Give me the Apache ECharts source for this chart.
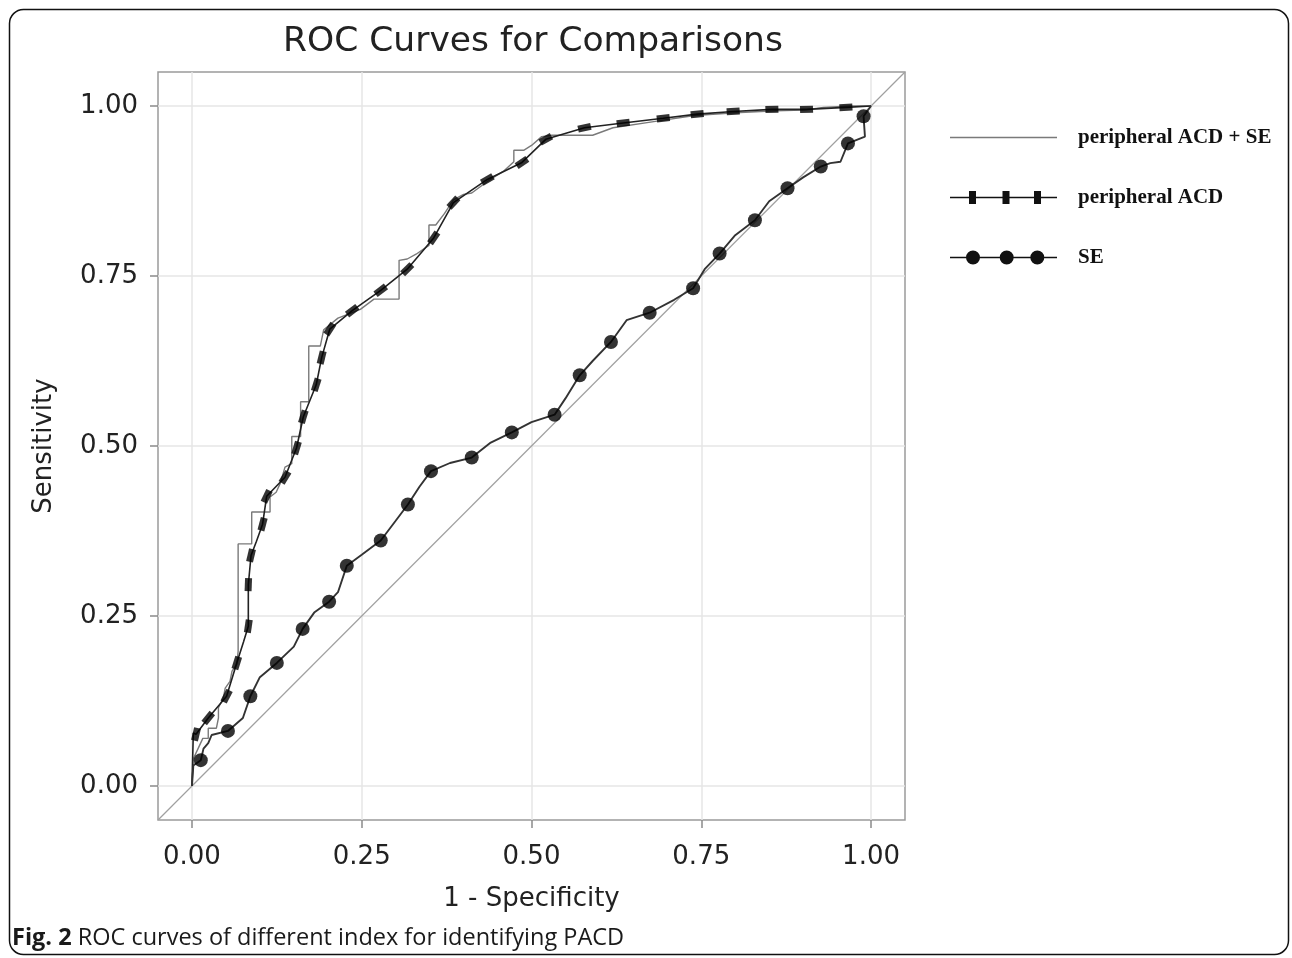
<!DOCTYPE html>
<html><head><meta charset="utf-8">
<script src="https://cdn.jsdelivr.net/npm/echarts@6/dist/echarts.min.js"></script>
<style>html,body{margin:0;padding:0;background:#fff}#c{width:1292px;height:958px}</style>
</head><body><div id="c"></div>
<script>
const titleText = 'ROC Curves for Comparisons';
const xName = '1 - Specificity';
const yName = 'Sensitivity';
const captionBold = 'Fig. 2';
const captionText = ' ROC curves of different index for identifying PACD';
const tickValues = [0, 0.25, 0.5, 0.75, 1];
const seriesNames = ['peripheral ACD + SE', 'peripheral ACD', 'SE'];
const diagonal = [[-0.05, -0.05], [1.05, 1.05]];

const comboPath = [[0,0],[0.002,0],[0.002,0.040],[0.009,0.055],[0.016,0.070],[0.024,0.070],[0.024,0.085],[0.036,0.085],[0.039,0.100],[0.039,0.115],[0.046,0.129],[0.049,0.144],[0.056,0.154],[0.059,0.169],[0.066,0.179],[0.068,0.198],[0.068,0.356],[0.088,0.356],[0.088,0.403],[0.115,0.403],[0.115,0.425],[0.124,0.432],[0.130,0.445],[0.137,0.469],[0.147,0.474],[0.147,0.514],[0.160,0.514],[0.160,0.565],[0.172,0.565],[0.172,0.647],[0.189,0.647],[0.194,0.671],[0.215,0.688],[0.248,0.701],[0.268,0.716],[0.305,0.716],[0.305,0.773],[0.317,0.775],[0.330,0.782],[0.349,0.795],[0.349,0.825],[0.359,0.825],[0.372,0.842],[0.385,0.862],[0.400,0.870],[0.412,0.872],[0.435,0.889],[0.460,0.905],[0.474,0.918],[0.474,0.935],[0.489,0.935],[0.500,0.942],[0.515,0.955],[0.530,0.957],[0.590,0.957],[0.620,0.968],[0.680,0.977],[0.740,0.986],[0.800,0.990],[0.860,0.993],[0.900,0.994],[0.930,0.998],[0.970,1.000],[1,1]];

const acdMarkers = [[0.006,0.076],[0.024,0.100],[0.051,0.132],[0.066,0.181],[0.083,0.235],[0.083,0.296],[0.087,0.339],[0.104,0.385],[0.110,0.426],[0.137,0.454],[0.154,0.497],[0.164,0.543],[0.183,0.590],[0.191,0.630],[0.203,0.672],[0.236,0.699],[0.278,0.729],[0.317,0.760],[0.356,0.806],[0.385,0.858],[0.435,0.892],[0.486,0.917],[0.521,0.951],[0.578,0.968],[0.635,0.975],[0.694,0.982],[0.744,0.988],[0.797,0.992],[0.854,0.995],[0.905,0.995],[0.963,0.998]];
const acdPath = [[0,0],[0.002,0],[0.002,0.078],[0.006,0.076],[0.024,0.100],[0.051,0.132],[0.066,0.181],[0.076,0.212],[0.083,0.235],[0.083,0.296],[0.087,0.339],[0.095,0.360],[0.104,0.385],[0.110,0.426],[0.137,0.454],[0.154,0.497],[0.164,0.543],[0.183,0.590],[0.191,0.630],[0.203,0.672],[0.236,0.699],[0.278,0.729],[0.317,0.760],[0.356,0.806],[0.385,0.858],[0.435,0.892],[0.486,0.917],[0.521,0.951],[0.578,0.968],[0.635,0.975],[0.694,0.982],[0.744,0.988],[0.797,0.992],[0.854,0.995],[0.905,0.995],[0.963,0.998],[1,1]];

const seMarkers = [[0.013,0.038],[0.053,0.081],[0.086,0.132],[0.125,0.181],[0.163,0.231],[0.202,0.271],[0.228,0.324],[0.278,0.361],[0.318,0.414],[0.352,0.463],[0.412,0.483],[0.471,0.520],[0.534,0.546],[0.571,0.604],[0.617,0.653],[0.674,0.696],[0.738,0.732],[0.777,0.783],[0.829,0.832],[0.877,0.879],[0.926,0.911],[0.966,0.945],[0.989,0.985]];
const sePath = [[0,0],[0.002,0.030],[0.013,0.038],[0.017,0.055],[0.024,0.063],[0.029,0.075],[0.053,0.081],[0.075,0.100],[0.086,0.132],[0.100,0.160],[0.125,0.181],[0.150,0.205],[0.163,0.231],[0.180,0.255],[0.202,0.271],[0.215,0.285],[0.228,0.324],[0.250,0.340],[0.278,0.361],[0.300,0.390],[0.318,0.414],[0.335,0.440],[0.352,0.463],[0.380,0.475],[0.412,0.483],[0.440,0.505],[0.471,0.520],[0.500,0.535],[0.534,0.546],[0.550,0.570],[0.571,0.604],[0.590,0.625],[0.617,0.653],[0.640,0.685],[0.674,0.696],[0.710,0.715],[0.738,0.732],[0.755,0.760],[0.777,0.783],[0.800,0.810],[0.829,0.832],[0.850,0.860],[0.877,0.879],[0.900,0.895],[0.926,0.911],[0.940,0.916],[0.955,0.918],[0.966,0.945],[0.991,0.955],[0.989,0.985],[1,1]];

function withRotation(pts) {
  return pts.map(function (p, i) {
    const a = i > 0 ? pts[i - 1] : [0, 0];
    const b = i < pts.length - 1 ? pts[i + 1] : [1, 1];
    const ang = Math.atan2(b[1] - a[1], b[0] - a[0]) * 180 / Math.PI;
    return { value: p, symbolRotate: ang };
  });
}

const iconCombo = 'path://M0,0 L0,16 Z M0,7.25 L107,7.25 L107,8.75 L0,8.75 Z';
const iconAcd = 'path://M0,0 L0,16 Z M0,7.25 L19,7.25 L19,8.75 L0,8.75 Z M19,1.5 L26,1.5 L26,14.5 L19,14.5 Z M26,7.25 L52.5,7.25 L52.5,8.75 L26,8.75 Z M52.5,1.5 L59.5,1.5 L59.5,14.5 L52.5,14.5 Z M59.5,7.25 L84,7.25 L84,8.75 L59.5,8.75 Z M84,1.5 L91,1.5 L91,14.5 L84,14.5 Z M91,7.25 L107,7.25 L107,8.75 L91,8.75 Z';
const iconSe = 'path://M0,0 L0,16 Z M0,7.25 L17,7.25 L17,8.75 L0,8.75 Z M16,8 A7,7 0 1,1 30,8 A7,7 0 1,1 16,8 Z M29,7.25 L50,7.25 L50,8.75 L29,8.75 Z M49.7,8 A7,7 0 1,1 63.7,8 A7,7 0 1,1 49.7,8 Z M63,7.25 L81,7.25 L81,8.75 L63,8.75 Z M80.3,8 A7,7 0 1,1 94.3,8 A7,7 0 1,1 80.3,8 Z M93,7.25 L107,7.25 L107,8.75 L93,8.75 Z';

const chart = echarts.init(document.getElementById('c'), null, { renderer: 'canvas' });
const axisFont = 'DejaVu Sans';
function axisCommon(name, nameGap, margin) {
  return {
    type: 'value', min: -0.05, max: 1.05,
    name: name, nameLocation: 'middle', nameGap: nameGap,
    nameTextStyle: { fontFamily: axisFont, fontSize: 26, color: '#222' },
    axisLine: { show: false, onZero: false },
    axisTick: { show: true, length: 8, customValues: tickValues, lineStyle: { color: '#8a8a8a', width: 1.5 } },
    axisLabel: { customValues: tickValues, fontFamily: axisFont, fontSize: 26, color: '#222', margin: margin,
      formatter: function (v) { return v.toFixed(2); } },
    splitLine: { show: true, lineStyle: { color: '#e6e6e6', width: 1.5 } }
  };
}

chart.setOption({
  animation: false,
  backgroundColor: '#fff',
  title: { text: titleText, left: 528, top: 20, textAlign: 'center',
    textStyle: { fontFamily: axisFont, fontSize: 34.5, fontWeight: 'normal', color: '#222' } },
  grid: { left: 158, top: 72, width: 747, height: 748, show: true, borderColor: '#9a9a9a', borderWidth: 1.5, backgroundColor: 'transparent' },
  xAxis: axisCommon(xName, 66, 24),
  yAxis: axisCommon(yName, 101, 20),
  legend: {
    orient: 'vertical', left: 950, top: 127, padding: 0, itemWidth: 107, itemHeight: 16, itemGap: 39,
    itemStyle: { borderWidth: 0 },
    textStyle: { fontFamily: 'Liberation Serif', fontSize: 21, fontWeight: 'bold', color: '#111', lineHeight: 20, padding: [0, 0, 0, 16] },
    data: [
      { name: seriesNames[0], icon: iconCombo },
      { name: seriesNames[1], icon: iconAcd },
      { name: seriesNames[2], icon: iconSe }
    ]
  },
  graphic: [
    { type: 'rect', left: 7, top: 7, shape: { width: 1279, height: 945, r: 14 }, style: { fill: 'none', stroke: '#111', lineWidth: 1.5 }, silent: true, z: 100 },
    { type: 'text', left: 12, top: 926, style: { text: '{b|' + captionBold + '}{n|' + captionText + '}',
      rich: { b: { fontFamily: 'Open Sans', fontSize: 23.5, fontWeight: 'bold', fill: '#1a1a1a' },
              n: { fontFamily: 'Open Sans', fontSize: 23.5, fill: '#1a1a1a' } } } }
  ],
  series: [
    { type: 'line', name: 'ref', data: diagonal, symbol: 'none', silent: true,
      lineStyle: { color: '#a0a0a0', width: 1.2 }, z: 1 },
    { type: 'line', name: seriesNames[0], data: comboPath, symbol: 'none', color: '#7a7a7a',
      lineStyle: { color: '#7a7a7a', width: 1.4 }, z: 2 },
    { type: 'line', name: seriesNames[1], data: acdPath, symbol: 'none', color: '#111',
      lineStyle: { color: '#222', width: 1.6 }, z: 3 },
    { type: 'scatter', name: seriesNames[1], data: withRotation(acdMarkers), symbol: 'rect', symbolSize: [13, 7],
      itemStyle: { color: '#000' }, z: 4 },
    { type: 'line', name: seriesNames[2], data: sePath, symbol: 'none', color: '#111',
      lineStyle: { color: '#333', width: 1.9 }, z: 3 },
    { type: 'scatter', name: seriesNames[2], data: seMarkers, symbol: 'circle', symbolSize: 14,
      itemStyle: { color: '#000' }, z: 4 }
  ]
});
</script></body></html>
